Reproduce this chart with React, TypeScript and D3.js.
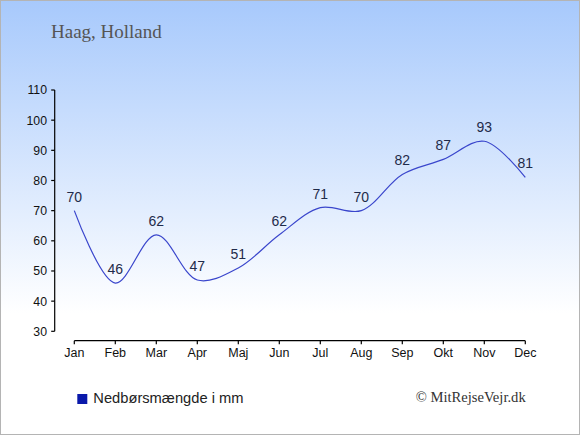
import React from "react";
import * as d3 from "d3";

const months = ["Jan", "Feb", "Mar", "Apr", "Maj", "Jun", "Jul", "Aug", "Sep", "Okt", "Nov", "Dec"];
const precipitation = [70, 46, 62, 47, 51, 62, 71, 70, 82, 87, 93, 81];
const yTicks = [30, 40, 50, 60, 70, 80, 90, 100, 110];
const title = "Haag, Holland";
const legendLabel = "Nedbørsmængde i mm";
const credit = "© MitRejseVejr.dk";

const W = 580;
const H = 435;

export default function App() {
  const x = d3.scalePoint<string>().domain(months).range([74.3, 525.3]);
  const y = d3.scaleLinear().domain([30, 110]).range([331.3, 90]);
  const line = d3
    .line<number>()
    .x((_, i) => x(months[i]) as number)
    .y((d) => y(d))
    .curve(d3.curveCatmullRom.alpha(0.5));
  const sans = "Arial, 'Liberation Sans', sans-serif";
  const serif = "'Liberation Serif', 'Times New Roman', serif";
  const axisY = 340.7;
  const axisX = 54.7;
  return (
    <div style={{ position: "fixed", left: 0, top: 0 }}>
      <svg width={W} height={H} viewBox={`0 0 ${W} ${H}`} style={{ display: "block" }}>
        <defs>
          <linearGradient id="bg" x1="0" y1="0" x2="0" y2="1">
            <stop offset="0" stopColor="#a7c9fc" />
            <stop offset="0.72" stopColor="#ffffff" />
            <stop offset="1" stopColor="#ffffff" />
          </linearGradient>
        </defs>
        <rect x={0} y={0} width={W} height={H} fill="url(#bg)" />
        <rect x={0.5} y={0.5} width={W - 1} height={H - 1} fill="none" stroke="#b4b4b4" strokeWidth={1} />
        <text x={51} y={38} fontFamily={serif} fontSize={19} fill="#555555">
          {title}
        </text>
        {/* Y axis */}
        <line x1={axisX} x2={axisX} y1={y(110)} y2={y(30)} stroke="#000" strokeWidth={1.2} />
        {yTicks.map((t) => (
          <g key={t}>
            <line x1={axisX - 3.5} x2={axisX} y1={y(t)} y2={y(t)} stroke="#000" strokeWidth={1.2} />
            <text x={47} y={y(t)} dy="0.36em" textAnchor="end" fontFamily={sans} fontSize={12.3} fill="#111">
              {t}
            </text>
          </g>
        ))}
        {/* X axis */}
        <line x1={x(months[0])} x2={x(months[11])} y1={axisY} y2={axisY} stroke="#000" strokeWidth={1.2} />
        {months.map((m) => (
          <g key={m}>
            <line x1={x(m)} x2={x(m)} y1={axisY} y2={axisY + 3.5} stroke="#000" strokeWidth={1.2} />
            <text x={x(m)} y={356.5} textAnchor="middle" fontFamily={sans} fontSize={12.5} fill="#111">
              {m}
            </text>
          </g>
        ))}
        <path d={line(precipitation) || ""} fill="none" stroke="#3a46cc" strokeWidth={1.2} />
        {precipitation.map((v, i) => (
          <text
            key={i}
            x={x(months[i])}
            y={y(v) - 9}
            textAnchor="middle"
            fontFamily={sans}
            fontSize={14}
            fill="#1f2b4a"
          >
            {v}
          </text>
        ))}
        {/* Legend */}
        <rect x={77.3} y={394} width={10} height={10} fill="#0a19aa" />
        <text x={93.3} y={403} fontFamily={sans} fontSize={14.7} fill="#222">
          {legendLabel}
        </text>
        <text x={525.7} y={402} textAnchor="end" fontFamily={serif} fontSize={14.6} fill="#333">
          {credit}
        </text>
      </svg>
    </div>
  );
}
